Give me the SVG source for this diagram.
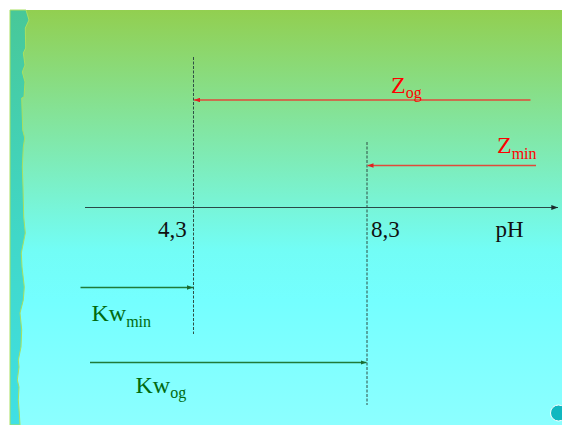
<svg xmlns="http://www.w3.org/2000/svg" width="562" height="425" viewBox="0 0 562 425">
  <defs>
    <linearGradient id="bg" x1="0" y1="10" x2="0" y2="425" gradientUnits="userSpaceOnUse">
      <stop offset="0" stop-color="#92cf50"/>
      <stop offset="0.58" stop-color="#72fdf6"/>
      <stop offset="0.7" stop-color="#74ffff"/>
      <stop offset="1" stop-color="#8cffff"/>
    </linearGradient>
    <linearGradient id="stripe" x1="0" y1="10" x2="0" y2="425" gradientUnits="userSpaceOnUse">
      <stop offset="0" stop-color="#48c898"/>
      <stop offset="0.55" stop-color="#40d8c8"/>
      <stop offset="1" stop-color="#40e0e4"/>
    </linearGradient>
    <marker id="ahBlack" viewBox="0 0 8 6" refX="8" refY="3" markerWidth="7" markerHeight="5" orient="auto" markerUnits="userSpaceOnUse">
      <path d="M0,0 L8,3 L0,6 Z" fill="#1a2a2a"/>
    </marker>
    <marker id="ahRed" viewBox="0 0 8 6" refX="8" refY="3" markerWidth="6" markerHeight="4.5" orient="auto" markerUnits="userSpaceOnUse">
      <path d="M0,0 L8,3 L0,6 Z" fill="#e02020"/>
    </marker>
    <marker id="ahGreen" viewBox="0 0 8 6" refX="8" refY="3" markerWidth="6" markerHeight="4.5" orient="auto" markerUnits="userSpaceOnUse">
      <path d="M0,0 L8,3 L0,6 Z" fill="#1a6a30"/>
    </marker>
  </defs>
  <style>
    .guide { stroke: #2f4f45; stroke-width: 1; stroke-dasharray: 3 1.5; fill: none; }
    .axis { stroke: #2a4848; stroke-width: 1.2; fill: none; }
    .red { stroke: #e04a3a; stroke-width: 1.3; fill: none; }
    .green { stroke: #1f7a3a; stroke-width: 1.3; fill: none; }
    .lbl { font-family: "Liberation Serif", "Times New Roman", serif; }
    .num { font-size: 23px; fill: #101010; }
    .big { font-size: 24px; }
    .sub { font-size: 16px; }
    .tred { fill: #ff0000; }
    .tgreen { fill: #006a10; }
  </style>
  <rect x="0" y="0" width="562" height="425" fill="#ffffff"/>
  <rect x="10" y="10" width="552" height="415" fill="url(#bg)"/>
  <path d="M10,10 L26,10 L29,20 L25.3,28 L25.7,48 L23.3,53 L25,65 L22.3,72 L25,82 L24,97 L21.7,98 L22.7,130 L24.7,138 L23.3,147 L22.3,167 L23,187 L23.7,217 L25.3,233 L21.3,253 L22,267 L24.3,287 L23.3,300 L20,313 L21.7,330 L21,347 L18.3,360 L19,367 L17.3,380 L19,387 L18.3,400 L19.3,413 L20,425 L10,425 Z" fill="url(#stripe)" stroke="#a8e060" stroke-width="1"/>

  <g id="connectors">
    <line class="guide" x1="193.5" y1="57" x2="193.5" y2="334"/>
    <line class="guide" x1="367" y1="142" x2="367" y2="405"/>
    <line id="axis" class="axis" x1="85" y1="207.5" x2="558" y2="207.5" marker-end="url(#ahBlack)"/>
    <line class="red" x1="530.5" y1="100" x2="194" y2="100" marker-end="url(#ahRed)"/>
    <line class="red" x1="536" y1="165.5" x2="367.5" y2="165.5" marker-end="url(#ahRed)"/>
    <line class="green" x1="80.5" y1="287.5" x2="193" y2="287.5" marker-end="url(#ahGreen)"/>
    <line class="green" x1="90" y1="362.5" x2="366.5" y2="362.5" marker-end="url(#ahGreen)"/>
  </g>

  <g id="tick-4-3"><text class="lbl num" x="158" y="236.7">4,3</text></g>
  <g id="tick-8-3"><text class="lbl num" x="371" y="236.7">8,3</text></g>
  <g id="axis-label"><text class="lbl num" x="495.5" y="236.7">pH</text></g>

  <g id="Zog"><text class="lbl big tred" x="391" y="93.3">Z<tspan class="sub" dy="5">og</tspan></text></g>
  <g id="Zmin"><text class="lbl big tred" x="497" y="152.7">Z<tspan class="sub" dy="6.6">min</tspan></text></g>
  <g id="Kwmin"><text class="lbl big tgreen" x="91.5" y="321">Kw<tspan class="sub" dy="5.7">min</tspan></text></g>
  <g id="Kwog"><text class="lbl big tgreen" x="135.5" y="392.7">Kw<tspan class="sub" dy="5.3">og</tspan></text></g>

  <circle cx="558.5" cy="413" r="8" fill="#10b8c0" stroke="#ffffff" stroke-width="1"/>
</svg>
